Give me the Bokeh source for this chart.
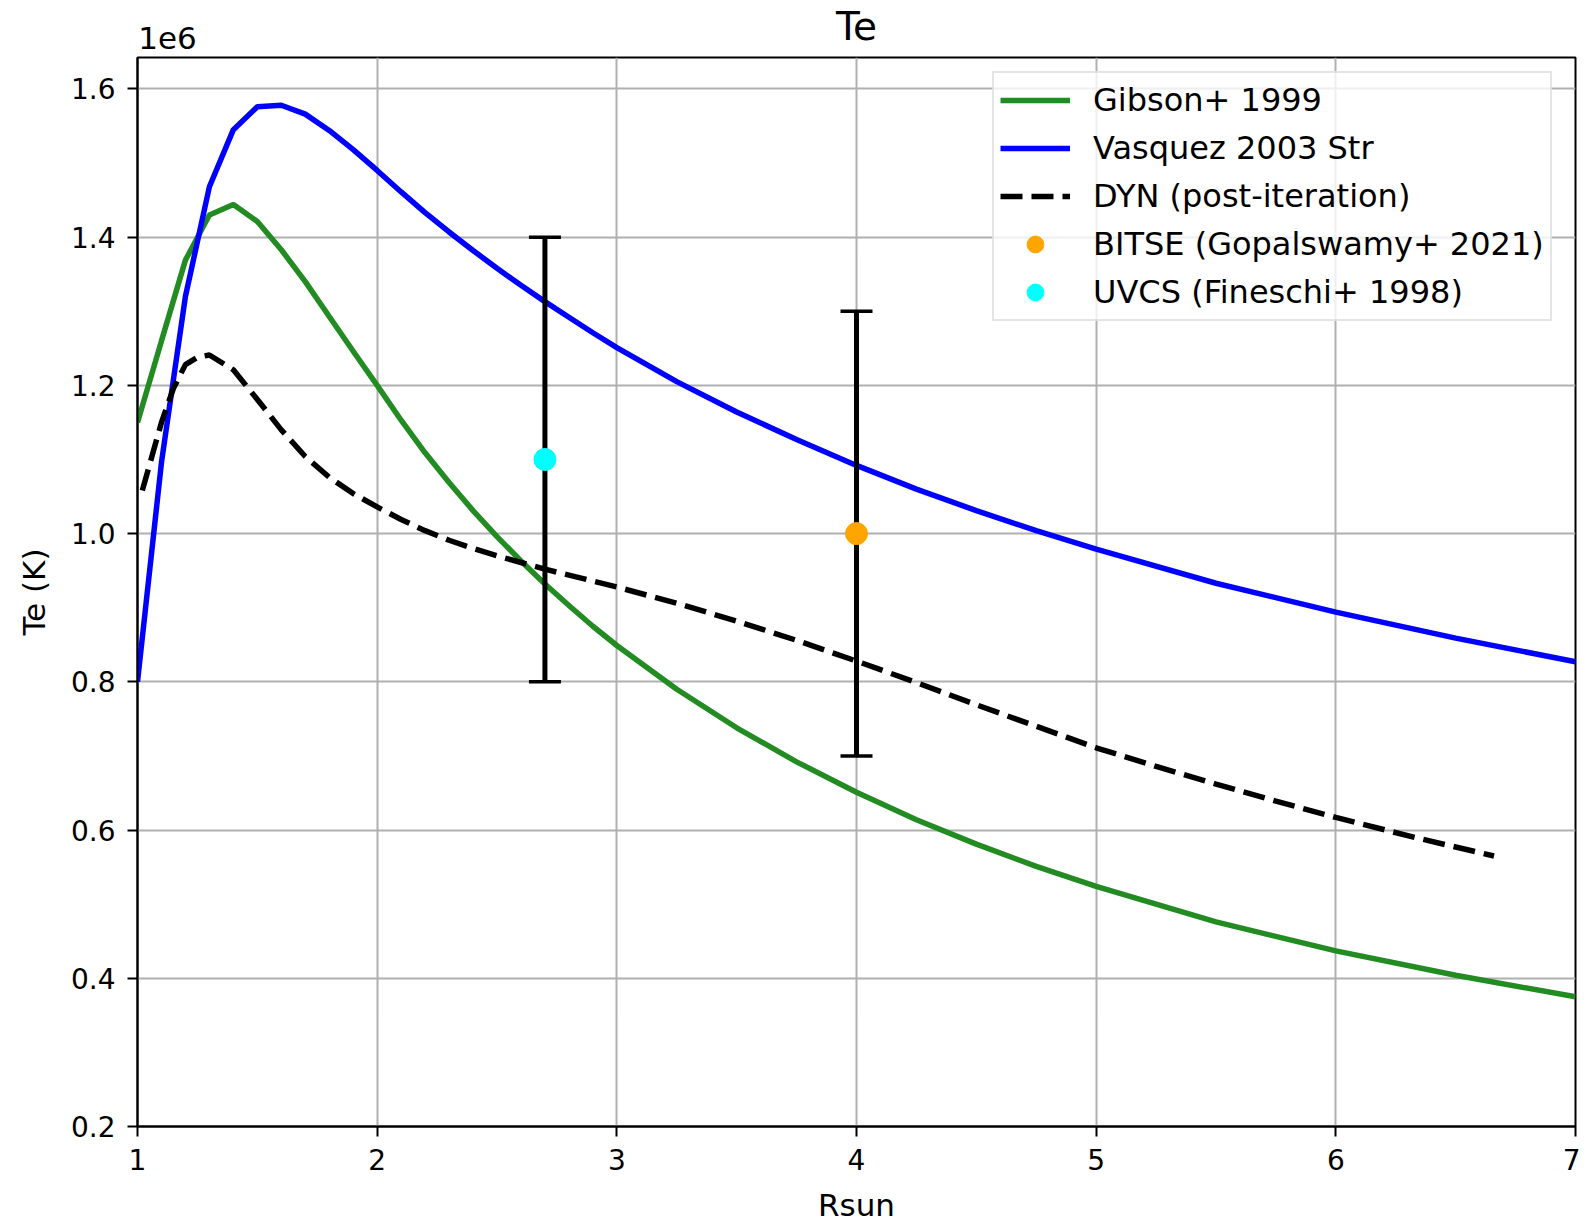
from bokeh.plotting import figure
from bokeh.models import (Range1d, Legend, LegendItem, FixedTicker, NumeralTickFormatter,
                          LinearAxis, CustomJSTickFormatter)
from bokeh.embed import file_html
from bokeh.resources import INLINE

# ---- data (Te in units of 1e6 K) ----
r_gibson = [1.0, 1.1, 1.2, 1.3, 1.4, 1.5, 1.6, 1.7, 1.8, 1.9, 2.0, 2.1, 2.2, 2.3, 2.4, 2.5,
            2.6, 2.7, 2.8, 2.9, 3.0, 3.25, 3.5, 3.75, 4.0, 4.25, 4.5, 4.75, 5.0, 5.5, 6.0,
            6.5, 7.0]
te_gibson = [1.150, 1.260, 1.369, 1.430, 1.444, 1.421, 1.383, 1.340, 1.293, 1.246, 1.200,
             1.153, 1.109, 1.069, 1.031, 0.996, 0.963, 0.932, 0.903, 0.875, 0.849, 0.790,
             0.738, 0.692, 0.651, 0.614, 0.581, 0.551, 0.524, 0.476, 0.437, 0.404, 0.375]

r_vasquez = [1.0, 1.1, 1.2, 1.3, 1.4, 1.5, 1.6, 1.7, 1.8, 1.9, 2.0, 2.1, 2.2, 2.3, 2.4, 2.5,
             2.6, 2.7, 2.8, 2.9, 3.0, 3.25, 3.5, 3.75, 4.0, 4.25, 4.5, 4.75, 5.0, 5.5, 6.0,
             6.5, 7.0]
te_vasquez = [0.800, 1.096, 1.320, 1.468, 1.545, 1.576, 1.578, 1.566, 1.544, 1.518, 1.490,
              1.461, 1.433, 1.407, 1.382, 1.358, 1.335, 1.313, 1.292, 1.271, 1.251, 1.205,
              1.164, 1.127, 1.092, 1.060, 1.031, 1.004, 0.979, 0.933, 0.894, 0.859, 0.827]

r_dyn = [1.02, 1.1, 1.15, 1.2, 1.25, 1.3, 1.4, 1.5, 1.6, 1.7, 1.8, 1.9, 2.0, 2.1, 2.2, 2.3,
         2.4, 2.5, 2.6, 2.7, 2.8, 2.9, 3.0, 3.25, 3.5, 3.75, 4.0, 4.25, 4.5, 4.75, 5.0, 5.25,
         5.5, 5.75, 6.0, 6.33, 6.66]
te_dyn = [1.058, 1.150, 1.196, 1.228, 1.238, 1.241, 1.221, 1.181, 1.140, 1.104, 1.076,
          1.054, 1.036, 1.019, 1.004, 0.991, 0.980, 0.970, 0.961, 0.952, 0.944, 0.936,
          0.928, 0.906, 0.882, 0.856, 0.828, 0.799, 0.769, 0.740, 0.711, 0.686, 0.662,
          0.639, 0.617, 0.590, 0.565]

obs_labels = ["BITSE (Gopalswamy+ 2021)", "UVCS (Fineschi+ 1998)"]
obs_r = [4.0, 2.7]
obs_te = [1.0, 1.1]
obs_err = [0.3, 0.3]
obs_colors = ["orange", "cyan"]

series_labels = ["Gibson+ 1999", "Vasquez 2003 Str", "DYN (post-iteration)"]
title_text = "Te"
offset_text = "1e6"

FONT = "DejaVu Sans"

p = figure(frame_width=1438, frame_height=1069,
           x_range=Range1d(1, 7), y_range=Range1d(0.2, 1.6424),
           output_backend="svg", toolbar_location=None, title=None,
           min_border_left=137, min_border_top=57, min_border_right=5, min_border_bottom=60)
p.background_fill_color = "white"
p.border_fill_color = "white"
p.outline_line_color = "black"
p.outline_line_width = 2

p.xaxis.ticker = FixedTicker(ticks=[1, 2, 3, 4, 5, 6, 7])
p.yaxis.ticker = FixedTicker(ticks=[0.2, 0.4, 0.6, 0.8, 1.0, 1.2, 1.4, 1.6])
p.xaxis.formatter = NumeralTickFormatter(format="0")
p.yaxis.formatter = NumeralTickFormatter(format="0.0")
p.xaxis.axis_label = "Rsun"
p.yaxis.axis_label = "Te (K)"
for ax in (p.xaxis, p.yaxis):
    ax.axis_label_text_font = FONT
    ax.axis_label_text_font_size = "31px"
    ax.axis_label_text_font_style = "normal"
    ax.axis_label_text_color = "black"
    ax.major_label_text_font = FONT
    ax.major_label_text_font_size = "28px"
    ax.major_label_text_color = "black"
    ax.axis_line_width = 2
    ax.major_tick_line_width = 2
    ax.major_tick_out = 10
    ax.major_tick_in = 0
    ax.minor_tick_line_color = None
    ax.major_label_standoff = 12
    ax.axis_label_standoff = 16
p.xaxis.axis_label_standoff = 14

# top: offset text "1e6" (as a tick label) and the title "Te" (as the axis label)
top_axis = LinearAxis(ticker=FixedTicker(ticks=[1.125]),
                      formatter=CustomJSTickFormatter(code="return '%s'" % offset_text),
                      axis_line_color=None, major_tick_line_color=None,
                      minor_tick_line_color=None, major_tick_out=0, major_tick_in=0,
                      major_label_standoff=9, major_label_text_font=FONT,
                      major_label_text_font_size="31px", major_label_text_color="black",
                      axis_label=title_text, axis_label_text_font=FONT,
                      axis_label_text_font_size="39px", axis_label_text_font_style="normal",
                      axis_label_text_color="black", axis_label_standoff=-25)
p.add_layout(top_axis, "above")

p.grid.grid_line_color = "#b0b0b0"
p.grid.grid_line_width = 2

r_g = p.line(r_gibson, te_gibson, line_color="#228B22", line_width=5.5)
r_v = p.line(r_vasquez, te_vasquez, line_color="#0000FF", line_width=5.5)
r_d = p.line(r_dyn, te_dyn, line_color="black", line_width=5.5, line_dash="22 9")

lo = [t - e for t, e in zip(obs_te, obs_err)]
hi = [t + e for t, e in zip(obs_te, obs_err)]
p.segment(x0=obs_r, y0=lo, x1=obs_r, y1=hi, line_color="black", line_width=5)
p.scatter(obs_r + obs_r, lo + hi, marker="dash", size=32, line_color="black", line_width=3.5)

obs_renderers = []
for i in range(len(obs_r)):
    rr = p.scatter([obs_r[i]], [obs_te[i]], marker="circle", size=22,
                   fill_color=obs_colors[i], line_color=obs_colors[i])
    obs_renderers.append(rr)

items = [LegendItem(label=series_labels[0], renderers=[r_g]),
         LegendItem(label=series_labels[1], renderers=[r_v]),
         LegendItem(label=series_labels[2], renderers=[r_d]),
         LegendItem(label=obs_labels[0], renderers=[obs_renderers[0]]),
         LegendItem(label=obs_labels[1], renderers=[obs_renderers[1]])]
legend = Legend(items=items, location=(855, 805), padding=6,
                label_standoff=23, glyph_width=70, glyph_height=42, label_height=42,
                spacing=6, label_text_font=FONT, label_text_font_size="32px",
                label_text_color="black",
                border_line_color="#cccccc", border_line_width=2,
                background_fill_color="white", background_fill_alpha=0.8)
p.add_layout(legend, "center")

open("out.html", "w").write(file_html(p, INLINE))
